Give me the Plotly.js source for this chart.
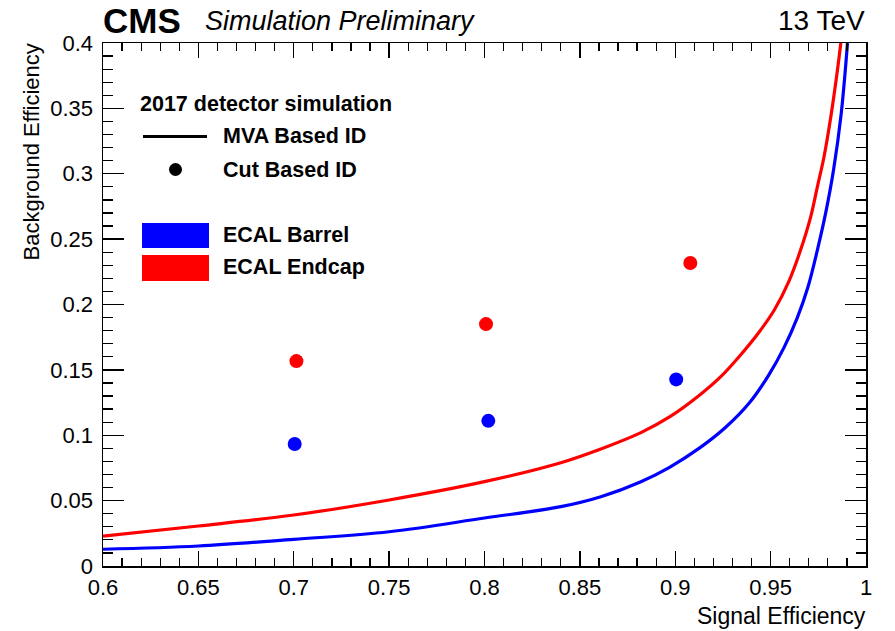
<!DOCTYPE html>
<html>
<head>
<meta charset="utf-8">
<script src="https://cdn.plot.ly/plotly-3.0.1.min.js"></script>
<style>html,body{margin:0;padding:0;background:#fff;} #chart{width:895px;height:631px;}</style>
</head>
<body>
<div id="chart"></div>
<script>
// ---- data ----
const barrelMvaX = [0.60, 0.65, 0.70, 0.75, 0.80, 0.84, 0.861, 0.882, 0.897, 0.913, 0.926, 0.939, 0.949, 0.957, 0.964, 0.9695, 0.9745, 0.979, 0.983, 0.987, 0.9903];
const barrelMvaY = [0.0128, 0.0153, 0.0204, 0.0262, 0.0367, 0.0454, 0.053, 0.0645, 0.0755, 0.0905, 0.1055, 0.125, 0.146, 0.167, 0.190, 0.213, 0.2416, 0.271, 0.303, 0.346, 0.40];
const endcapMvaX = [0.60, 0.65, 0.70, 0.75, 0.80, 0.84, 0.861, 0.882, 0.897, 0.913, 0.924, 0.934, 0.944, 0.952, 0.9595, 0.9657, 0.971, 0.9745, 0.978, 0.9815, 0.985, 0.9868];
const endcapMvaY = [0.0229, 0.0306, 0.039, 0.0505, 0.0645, 0.079, 0.0895, 0.102, 0.114, 0.131, 0.145, 0.161, 0.179, 0.196, 0.2175, 0.2416, 0.267, 0.290, 0.313, 0.343, 0.379, 0.40];
const barrelCutX = [0.7005, 0.802, 0.9005];
const barrelCutY = [0.0933, 0.111, 0.1427];
const endcapCutX = [0.7014, 0.8008, 0.9079];
const endcapCutY = [0.1567, 0.185, 0.2317];

const xRange = [0.6, 1.0];
const yRange = [0, 0.4];

const BLUE = '#0000ff', RED = '#ff0000';
const FONT = 'Liberation Sans, Arial, Helvetica, sans-serif';

// ---- layout geometry (pixels) ----
const W = 895, H = 631;
const mL = 103, mR = 29, mT = 43, mB = 65;
const pw = W - mL - mR, ph = H - mT - mB;
const px = x => (x - mL) / pw;
const py = y => (H - mB - y) / ph;

const traces = [
  {x: barrelMvaX, y: barrelMvaY, mode: 'lines', line: {color: BLUE, width: 3.2, shape: 'spline', smoothing: 1}, hoverinfo: 'skip'},
  {x: endcapMvaX, y: endcapMvaY, mode: 'lines', line: {color: RED, width: 3.2, shape: 'spline', smoothing: 1}, hoverinfo: 'skip'},
  {x: barrelCutX, y: barrelCutY, mode: 'markers', marker: {color: BLUE, size: 14}, hoverinfo: 'skip'},
  {x: endcapCutX, y: endcapCutY, mode: 'markers', marker: {color: RED, size: 14}, hoverinfo: 'skip'}
];

const axisCommon = {
  showgrid: false, zeroline: false, showline: true, linecolor: '#000', linewidth: 1.5,
  mirror: 'allticks', ticks: 'inside', tickcolor: '#000', tickwidth: 1.3,
  tickfont: {family: FONT, size: 22, color: '#000'}, dtick: 0.05
};

const annTxt = (text, x, y, size, opts) => Object.assign({
  text: text, xref: 'paper', yref: 'paper', x: px(x), y: py(y),
  xanchor: 'left', yanchor: 'middle', showarrow: false,
  font: {family: FONT, size: size, color: '#000'}
}, opts || {});

const layout = {
  width: W, height: H,
  margin: {l: mL, r: mR, t: mT, b: mB, pad: 0},
  paper_bgcolor: '#fff', plot_bgcolor: '#fff',
  showlegend: false,
  xaxis: Object.assign({}, axisCommon, {
    range: xRange, ticklen: 15, tick0: 0.6,
    minor: {ticks: 'inside', dtick: 0.01, ticklen: 8, tickcolor: '#000', tickwidth: 1.3},
    ticklabelstandoff: 1
  }),
  yaxis: Object.assign({}, axisCommon, {
    range: yRange, ticklen: 21, tick0: 0,
    minor: {ticks: 'inside', dtick: 0.01, ticklen: 10, tickcolor: '#000', tickwidth: 1.3},
    ticklabelstandoff: 4
  }),
  annotations: [
    annTxt('<b>CMS</b>', 101, 21, 35, {}),
    annTxt('<i>Simulation Preliminary</i>', 203, 21, 27, {}),
    annTxt('13 TeV', 867, 21, 28, {xanchor: 'right'}),
    annTxt('Signal Efficiency', 868, 616, 23, {xanchor: 'right'}),
    {text: 'Background Efficiency', xref: 'paper', yref: 'paper', x: px(31), y: py(42),
     xanchor: 'center', yanchor: 'top', textangle: -90, showarrow: false,
     font: {family: FONT, size: 22, color: '#000'}},
    annTxt('<b>2017 detector simulation</b>', 138, 104, 21.5, {}),
    annTxt('<b>MVA Based ID</b>', 221, 136, 21.5, {}),
    annTxt('<b>Cut Based ID</b>', 221, 170, 21.5, {}),
    annTxt('<b>ECAL Barrel</b>', 221, 235, 21.5, {}),
    annTxt('<b>ECAL Endcap</b>', 221, 267, 21.5, {})
  ],
  shapes: [
    {type: 'line', xref: 'paper', yref: 'paper', x0: px(143), x1: px(207), y0: py(136.5), y1: py(136.5), line: {color: '#000', width: 3.2}},
    {type: 'circle', xref: 'paper', yref: 'paper', x0: px(169), x1: px(182), y0: py(163), y1: py(176), fillcolor: '#000', line: {width: 0}},
    {type: 'rect', xref: 'paper', yref: 'paper', x0: px(142), x1: px(209), y0: py(223), y1: py(248), fillcolor: BLUE, line: {width: 0}},
    {type: 'rect', xref: 'paper', yref: 'paper', x0: px(142), x1: px(209), y0: py(255), y1: py(281), fillcolor: RED, line: {width: 0}}
  ]
};

Plotly.newPlot('chart', traces, layout, {displayModeBar: false, staticPlot: true});
</script>
</body>
</html>
